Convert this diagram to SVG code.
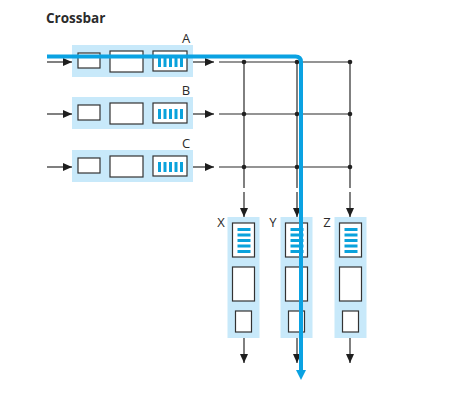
<svg xmlns="http://www.w3.org/2000/svg" width="449" height="420" viewBox="0 0 449 420">
<defs>
<style>
.lb{fill:#c8e9fa}
.bx{fill:#fff;stroke:#333;stroke-width:1.2}
.bar{fill:#0aa2dc}
.ln{stroke:#2a2a2a;stroke-width:1.2;fill:none}
.dot{fill:#222}
.t{font-family:"Open Sans","Liberation Sans",sans-serif;fill:#2b2b2b}
.lab{font-size:13px;text-anchor:middle}
</style>
<marker id="ah" markerUnits="userSpaceOnUse" markerWidth="10" markerHeight="10" viewBox="0 0 10 10" refX="9" refY="5" orient="auto">
<path d="M0,1 L9,5 L0,9 Z" fill="#1e1e1e"/>
</marker>
<g id="rowbox">
<rect class="lb" x="72" y="-17" width="121" height="32"/>
<rect class="bx" x="78" y="-9" width="22" height="15"/>
<rect class="bx" x="110" y="-11" width="33" height="21"/>
<rect class="bx" x="153" y="-11" width="34" height="20"/>
<rect class="bar" x="158" y="-5" width="3" height="10"/>
<rect class="bar" x="163.5" y="-5" width="3" height="10"/>
<rect class="bar" x="169" y="-5" width="3" height="10"/>
<rect class="bar" x="174.5" y="-5" width="3" height="10"/>
<rect class="bar" x="180" y="-5" width="3" height="10"/>
</g>
<g id="colbox">
<rect class="lb" x="-16" y="217" width="32" height="121"/>
<rect class="bx" x="-11" y="223" width="22" height="34"/>
<rect class="bar" x="-6" y="228" width="13" height="3"/>
<rect class="bar" x="-6" y="233.5" width="13" height="3"/>
<rect class="bar" x="-6" y="239" width="13" height="3"/>
<rect class="bar" x="-6" y="244.5" width="13" height="3"/>
<rect class="bar" x="-6" y="250" width="13" height="3"/>
<rect class="bx" x="-11" y="267" width="22" height="34"/>
<rect class="bx" x="-8" y="311" width="16" height="21"/>
</g>
</defs>
<rect width="449" height="420" fill="#fff"/>
<text class="t" x="46" y="23" font-size="13.5" font-weight="bold">Crossbar</text>

<g id="input-A"><use href="#rowbox" y="62"/><text class="t lab" x="186" y="43">A</text></g>
<g id="input-B"><use href="#rowbox" y="114"/><text class="t lab" x="186" y="95">B</text></g>
<g id="input-C"><use href="#rowbox" y="167"/><text class="t lab" x="186" y="148">C</text></g>

<g id="output-X"><use href="#colbox" x="243.5"/><text class="t lab" x="221" y="227">X</text></g>
<g id="output-Y"><use href="#colbox" x="296.5"/><text class="t lab" x="273" y="227">Y</text></g>
<g id="output-Z"><use href="#colbox" x="350.5"/><text class="t lab" x="327" y="227">Z</text></g>

<g id="connectors">
<line class="ln" x1="47" y1="62" x2="72" y2="62" marker-end="url(#ah)"/>
<line class="ln" x1="47" y1="114" x2="72" y2="114" marker-end="url(#ah)"/>
<line class="ln" x1="47" y1="167" x2="72" y2="167" marker-end="url(#ah)"/>
<line class="ln" x1="193" y1="62" x2="214" y2="62" marker-end="url(#ah)"/>
<line class="ln" x1="193" y1="114" x2="214" y2="114" marker-end="url(#ah)"/>
<line class="ln" x1="193" y1="167" x2="214" y2="167" marker-end="url(#ah)"/>
<line class="ln" x1="219" y1="62" x2="350" y2="62"/>
<line class="ln" x1="219" y1="114" x2="350" y2="114"/>
<line class="ln" x1="219" y1="167" x2="350" y2="167"/>
<line class="ln" x1="244" y1="62" x2="244" y2="188"/>
<line class="ln" x1="297" y1="62" x2="297" y2="188"/>
<line class="ln" x1="350" y1="62" x2="350" y2="188"/>
<line class="ln" x1="244" y1="192" x2="244" y2="217" marker-end="url(#ah)"/>
<line class="ln" x1="297" y1="192" x2="297" y2="217" marker-end="url(#ah)"/>
<line class="ln" x1="350" y1="192" x2="350" y2="217" marker-end="url(#ah)"/>
<line class="ln" x1="244" y1="338" x2="244" y2="363" marker-end="url(#ah)"/>
<line class="ln" x1="297" y1="338" x2="297" y2="363" marker-end="url(#ah)"/>
<line class="ln" x1="350" y1="338" x2="350" y2="363" marker-end="url(#ah)"/>
<circle class="dot" cx="244" cy="62" r="2.3"/>
<circle class="dot" cx="297" cy="62" r="2.3"/>
<circle class="dot" cx="350" cy="62" r="2.3"/>
<circle class="dot" cx="244" cy="114" r="2.3"/>
<circle class="dot" cx="297" cy="114" r="2.3"/>
<circle class="dot" cx="350" cy="114" r="2.3"/>
<circle class="dot" cx="244" cy="167" r="2.3"/>
<circle class="dot" cx="297" cy="167" r="2.3"/>
<circle class="dot" cx="350" cy="167" r="2.3"/>
<path d="M47 56.5 H295.5 Q301 56.5 301 62 V371" fill="none" stroke="#0aa2e2" stroke-width="4"/>
<path d="M296 370 L306 370 L301 380 Z" fill="#0aa2e2"/>
</g>
</svg>
